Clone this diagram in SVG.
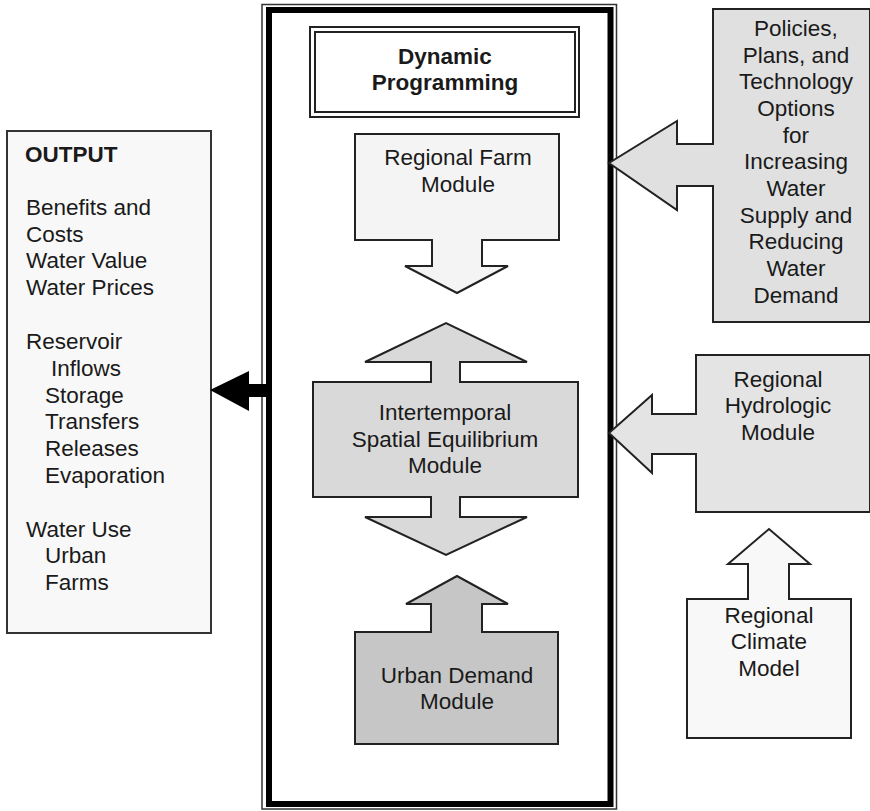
<svg xmlns="http://www.w3.org/2000/svg" width="870" height="811" viewBox="0 0 870 811">
  <style>
    text { font-family: "Liberation Sans", Arial, sans-serif; font-size: 22.5px; fill: #1a1a1a; }
    .c { text-anchor: middle; }
    .b { font-weight: bold; }
    .shape { stroke: #222; stroke-width: 2; stroke-linejoin: miter; }
  </style>
  <rect x="0" y="0" width="870" height="811" fill="#ffffff"/>

  <!-- Main model frame: thin outer line + heavy inner line -->
  <g id="frame">
    <rect x="262" y="4.5" width="354.5" height="804.5" fill="none" stroke="#333" stroke-width="1.5"/>
    <rect x="269" y="10" width="341.5" height="794" fill="none" stroke="#000" stroke-width="6"/>
  </g>

  <!-- Dynamic Programming (double border) -->
  <g id="dynamic-programming">
    <rect x="310" y="27" width="269" height="90" fill="#fff" stroke="#222" stroke-width="2"/>
    <rect x="315" y="32" width="260" height="80" fill="#fff" stroke="#222" stroke-width="2"/>
    <text class="c b" x="445" y="64">Dynamic</text>
    <text class="c b" x="445" y="90">Programming</text>
  </g>

  <!-- Regional Farm Module with downward arrow -->
  <g id="farm-module">
    <path class="shape" fill="#f4f4f4" d="M355,134 H559 V240 H482 V266 H508 L457,293 L405,266 H432 V240 H355 Z"/>
    <text class="c" x="458" y="165">Regional Farm</text>
    <text class="c" x="458" y="192">Module</text>
  </g>

  <!-- Intertemporal Spatial Equilibrium Module with two-way arrows -->
  <g id="equilibrium-module">
    <path class="shape" fill="#d9d9d9" d="M313,382 H431 V362 H365 L446,323 L527,362 H460 V382 H578 V497 H460 V517 H527 L446,555 L365,517 H431 V497 H313 Z"/>
    <text class="c" x="445" y="420">Intertemporal</text>
    <text class="c" x="445" y="447">Spatial Equilibrium</text>
    <text class="c" x="445" y="473">Module</text>
  </g>

  <!-- Urban Demand Module with upward arrow -->
  <g id="urban-module">
    <path class="shape" fill="#c6c6c6" d="M355,632 H431 V604 H406 L457,576 L508,604 H482 V632 H558 V744 H355 Z"/>
    <text class="c" x="457" y="683">Urban Demand</text>
    <text class="c" x="457" y="709">Module</text>
  </g>

  <!-- Policies input with left-pointing arrow -->
  <g id="policies">
    <path class="shape" fill="#e0e0e0" d="M713,9 H870 V322 H713 V186 H677 V210 L609,163 L677,121 V144 H713 Z"/>
    <text class="c" x="796" y="36">Policies,</text>
    <text class="c" x="796" y="63">Plans, and</text>
    <text class="c" x="796" y="89">Technology</text>
    <text class="c" x="796" y="116">Options</text>
    <text class="c" x="796" y="143">for</text>
    <text class="c" x="796" y="169">Increasing</text>
    <text class="c" x="796" y="196">Water</text>
    <text class="c" x="796" y="223">Supply and</text>
    <text class="c" x="796" y="249">Reducing</text>
    <text class="c" x="796" y="276">Water</text>
    <text class="c" x="796" y="303">Demand</text>
  </g>

  <!-- Regional Hydrologic Module with left-pointing arrow -->
  <g id="hydrologic-module">
    <path class="shape" fill="#e4e4e4" d="M696,355 H870 V512 H696 V454 H652 V473 L609,433 L652,395 V414 H696 Z"/>
    <text class="c" x="778" y="387">Regional</text>
    <text class="c" x="778" y="413">Hydrologic</text>
    <text class="c" x="778" y="440">Module</text>
  </g>

  <!-- Regional Climate Model with upward arrow -->
  <g id="climate-model">
    <path class="shape" fill="#f8f8f8" d="M687,599 H748 V564 H728 L769,529 L810,564 H789 V599 H851 V738 H687 Z"/>
    <text class="c" x="769" y="623">Regional</text>
    <text class="c" x="769" y="649">Climate</text>
    <text class="c" x="769" y="676">Model</text>
  </g>

  <!-- Output list -->
  <g id="output">
    <rect x="7" y="131" width="204" height="502" fill="#f8f8f8" stroke="#333" stroke-width="2"/>
    <text class="b" x="25" y="162">OUTPUT</text>
    <text x="26" y="215">Benefits and</text>
    <text x="26" y="242">Costs</text>
    <text x="26" y="268">Water Value</text>
    <text x="26" y="295">Water Prices</text>
    <text x="26" y="349">Reservoir</text>
    <text x="51" y="376">Inflows</text>
    <text x="45" y="403">Storage</text>
    <text x="45" y="429">Transfers</text>
    <text x="45" y="456">Releases</text>
    <text x="45" y="483">Evaporation</text>
    <text x="26" y="537">Water Use</text>
    <text x="45" y="563">Urban</text>
    <text x="45" y="590">Farms</text>
  </g>

  <!-- Connector from the model frame to the output list -->
  <g id="connectors">
    <path fill="#000" d="M268,384 H249 V371 L210,390 L249,411 V397 H268 Z"/>
  </g>
</svg>
